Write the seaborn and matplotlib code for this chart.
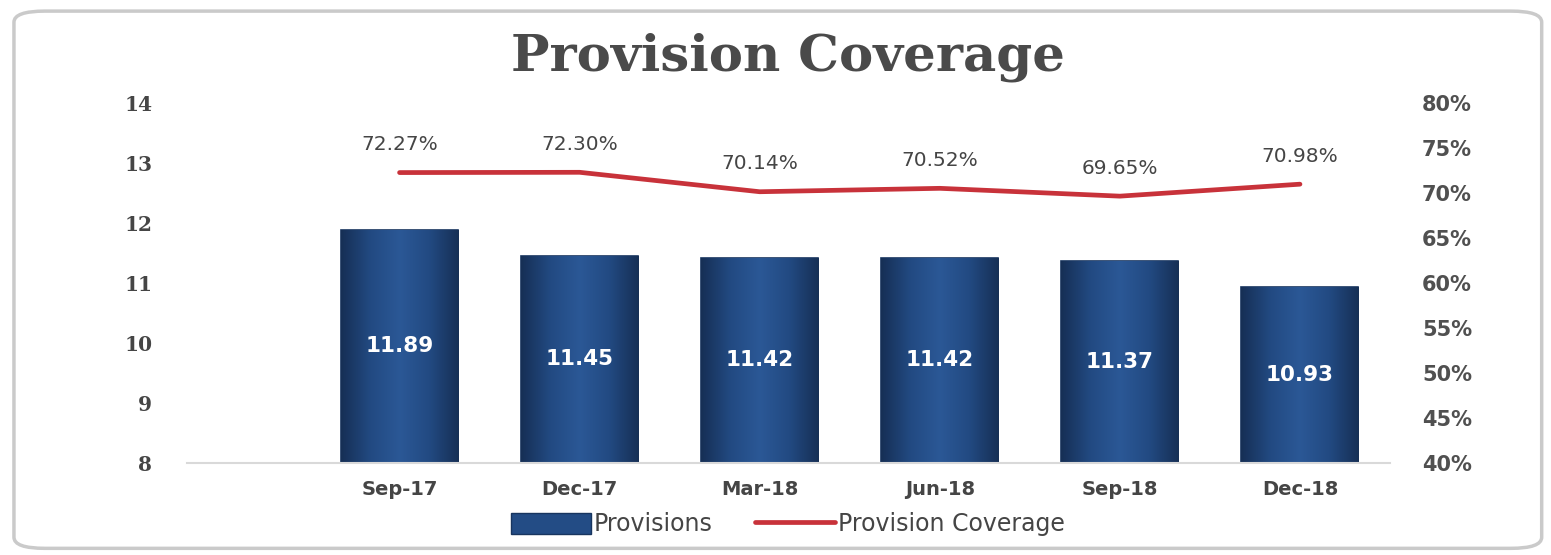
import numpy as np
import pandas as pd
import matplotlib
matplotlib.use("Agg")
import matplotlib.pyplot as plt
from matplotlib.patches import FancyBboxPatch, Patch
from matplotlib.lines import Line2D
from matplotlib.colors import LinearSegmentedColormap
import seaborn as sns

# Quarterly figures
categories = ["Sep-17", "Dec-17", "Mar-18", "Jun-18", "Sep-18", "Dec-18"]
provisions = [11.89, 11.45, 11.42, 11.42, 11.37, 10.93]
coverage_pct = [72.27, 72.30, 70.14, 70.52, 69.65, 70.98]
left_ticks = [8, 9, 10, 11, 12, 13, 14]
right_ticks = [40, 45, 50, 55, 60, 65, 70, 75, 80]

BAR_BLUE = "#234c85"
BAR_EDGE = "#18355f"
LINE_RED = "#c8323a"
TEXT_GRAY = "#454545"

sns.set_theme(style="white")
plt.rcParams["font.family"] = ["DejaVu Sans"]

df = pd.DataFrame({"period": categories, "provisions": provisions,
                   "coverage": coverage_pct, "pos": np.arange(len(categories))})

fig = plt.figure(figsize=(15.51, 5.55), dpi=100)

# Rounded card frame around the chart
frame = FancyBboxPatch((0.009, 0.012), 0.985, 0.968,
                       boxstyle="round,pad=0,rounding_size=0.02",
                       transform=fig.transFigure, facecolor="white",
                       edgecolor="#cacaca", linewidth=2.5, zorder=-5)
fig.patches.append(frame)

ax = fig.add_axes([0.1206, 0.1658, 0.7756, 0.6486])
ax.set_facecolor("none")

sns.barplot(data=df, x="period", y="provisions", ax=ax, color=BAR_BLUE,
            width=0.65, saturation=1, edgecolor=BAR_EDGE, linewidth=1.2,
            zorder=2)

# Cylinder-like shading across each bar
shade = LinearSegmentedColormap.from_list(
    "shade", ["#162f55", "#224a82", "#2b5896", "#224a82", "#162f55"])
grad = np.linspace(0, 1, 256).reshape(1, -1)
for p in list(ax.patches):
    x0, y0 = p.get_x(), p.get_y()
    w, h = p.get_width(), p.get_height()
    im = ax.imshow(grad, cmap=shade, aspect="auto",
                   extent=(x0, x0 + w, 8, y0 + h), zorder=2.5)
    im.set_clip_path(p)
ax.set_xlim(-1.18, 5.5)
ax.set_ylim(8, 14)

# Value labels in the middle of each bar
for i, v in enumerate(provisions):
    ax.text(i, (8 + v) / 2, f"{v:.2f}", ha="center", va="center",
            color="white", fontsize=15.5, fontweight="bold", zorder=4)

ax.set_yticks(left_ticks)
ax.set_yticklabels([str(t) for t in left_ticks])
ax.set_xlabel("")
ax.set_ylabel("")
ax.tick_params(axis="y", length=0, pad=25, labelsize=14.5, labelcolor=TEXT_GRAY)
ax.tick_params(axis="x", length=0, pad=12, labelsize=14, labelcolor=TEXT_GRAY)
for lbl in ax.get_xticklabels():
    lbl.set_fontweight("bold")
for lbl in ax.get_yticklabels():
    lbl.set_fontweight("bold")
    lbl.set_family("DejaVu Serif")
for side in ["top", "right", "left"]:
    ax.spines[side].set_visible(False)
ax.spines["bottom"].set_color("#d9d9d9")
ax.spines["bottom"].set_linewidth(1.5)

# Coverage ratio on the secondary axis
ax2 = ax.twinx()
sns.lineplot(data=df, x="pos", y="coverage", ax=ax2, color=LINE_RED,
             linewidth=3.4, zorder=3)
ax2.set_ylim(40, 80)
ax2.set_xlim(-1.18, 5.5)
ax2.set_yticks(right_ticks)
ax2.set_yticklabels([f"{t}%" for t in right_ticks])
ax2.set_ylabel("")
ax2.set_xlabel("")
ax2.tick_params(axis="y", length=0, pad=23, labelsize=15, labelcolor="#505050")
for lbl in ax2.get_yticklabels():
    lbl.set_fontweight("semibold")
for side in ["top", "right", "left", "bottom"]:
    ax2.spines[side].set_visible(False)
ax2.grid(False)
ax.grid(False)

for i, v in enumerate(coverage_pct):
    ax2.annotate(f"{v:.2f}%", (i, v), xytext=(0, 20), textcoords="offset points",
                 ha="center", va="center", fontsize=14.5, color=TEXT_GRAY)

fig.text(0.508, 0.873, "Provision Coverage", ha="center", va="baseline",
         fontsize=37, fontweight="bold", color="#4a4a4a", family="DejaVu Serif")

handles = [Patch(facecolor=BAR_BLUE, edgecolor=BAR_EDGE, label="Provisions"),
           Line2D([0], [0], color=LINE_RED, lw=3.4, label="Provision Coverage")]
fig.legend(handles=handles, loc="center", bbox_to_anchor=(0.508, 0.055),
           ncol=2, frameon=False, prop={"size": 17}, handlelength=3.4,
           handleheight=1.0, handletextpad=0.1, columnspacing=1.8,
           labelcolor=TEXT_GRAY)

fig.savefig("out.png", dpi=100)
